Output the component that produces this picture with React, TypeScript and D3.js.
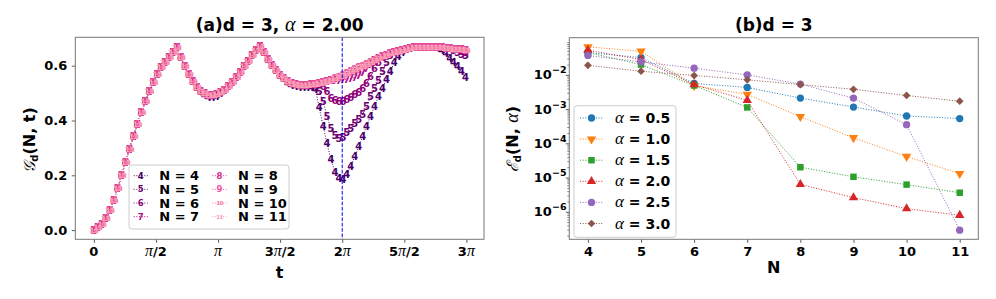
import { useRef, useEffect } from "react";
import * as d3 from "d3";

// ---- panel (a): G_d(N, t), sampled every 0.1 in t ----
const tStep = 0.1;
const gBase = [
  0.000, 0.009, 0.022, 0.042, 0.073, 0.109, 0.152, 0.199, 0.247, 0.294,
  0.343, 0.386, 0.428, 0.468, 0.505, 0.538, 0.568, 0.593, 0.612, 0.629,
  0.648, 0.666, 0.630, 0.599, 0.568, 0.542, 0.521, 0.507, 0.497, 0.492,
  0.491, 0.494, 0.501, 0.511, 0.523, 0.538, 0.556, 0.575, 0.596, 0.617,
  0.636, 0.654, 0.670, 0.647, 0.623, 0.601, 0.581, 0.565, 0.552, 0.541,
  0.534, 0.530, 0.528, 0.527, 0.528, 0.530, 0.532, 0.535, 0.539, 0.543,
  0.548, 0.553, 0.559, 0.565, 0.571, 0.578, 0.585, 0.592, 0.599, 0.606,
  0.613, 0.620, 0.627, 0.633, 0.639, 0.644, 0.649, 0.653, 0.657, 0.660,
  0.663, 0.665, 0.667, 0.668, 0.668, 0.668, 0.667, 0.666, 0.665, 0.664,
  0.662, 0.661, 0.659, 0.658, 0.656,
];
// where a smaller N leaves the common curve: [first index, values]
const n4Segments: [number, number[]][] = [
  [27, [0.503, 0.490, 0.484, 0.483, 0.487, 0.497]],
  [49, [0.536, 0.528, 0.524, 0.522, 0.521, 0.521, 0.519, 0.515, 0.449, 0.378,
        0.315, 0.257, 0.212, 0.190, 0.185, 0.205, 0.234, 0.268, 0.304, 0.343,
        0.380, 0.416, 0.453, 0.487, 0.517, 0.550, 0.580, 0.611, 0.635, 0.650]],
  [87, [0.662, 0.655, 0.645, 0.628, 0.612, 0.597, 0.578, 0.557]],
];
const n5Segments: [number, number[]][] = [
  [55, [0.528, 0.522, 0.505, 0.469, 0.415, 0.370, 0.344, 0.336, 0.340, 0.355,
        0.372, 0.390, 0.405, 0.423, 0.450, 0.487, 0.517, 0.547, 0.578, 0.612, 0.638]],
  [91, [0.655, 0.648, 0.642, 0.636]],
];
const n6Segments: [number, number[]][] = [
  [57, [0.533, 0.525, 0.506, 0.482, 0.472, 0.469, 0.470, 0.477, 0.484, 0.494,
        0.504, 0.518, 0.535, 0.562, 0.590, 0.613, 0.629]],
  [93, [0.652, 0.648]],
];
const n7Segments: [number, number[]][] = [
  [60, [0.546, 0.546, 0.547, 0.549, 0.551, 0.554, 0.558, 0.564, 0.574, 0.590, 0.606]],
];
const nValues = [4, 5, 6, 7, 8, 9, 10, 11];
const nSegments = [n4Segments, n5Segments, n6Segments, n7Segments, [], [], [], []];
const xTickLabels = [["0", ""], ["π", "/2"], ["π", ""], ["3π", "/2"], ["2π", ""], ["5π", "/2"], ["3π", ""]];

// ---- panel (b): E_d(N, alpha) ----
const nAxis = [4, 5, 6, 7, 8, 9, 10, 11];
const alphaLabels = ["0.5", "1.0", "1.5", "2.0", "2.5", "3.0"];
const eAlpha05 = [0.045, 0.032, 0.0056, 0.0043, 0.0021, 0.00115, 0.00063, 0.00053];
const eAlpha10 = [0.066, 0.049, 0.0048, 0.0027, 0.0006, 0.000145, 4.1e-5, 1.3e-5];
const eAlpha15 = [0.045, 0.020, 0.0049, 0.00112, 2.0e-5, 1.05e-5, 6.2e-6, 3.6e-6];
const eAlpha20 = [0.053, 0.028, 0.0052, 0.0018, 6.3e-6, 2.6e-6, 1.23e-6, 7.9e-7];
const eAlpha25 = [0.037, 0.024, 0.0157, 0.010, 0.0054, 0.0021, 0.00035, 2.9e-7];
const eAlpha30 = [0.019, 0.0128, 0.0096, 0.0072, 0.0052, 0.0038, 0.0025, 0.0017];
const eSeries = [eAlpha05, eAlpha10, eAlpha15, eAlpha20, eAlpha25, eAlpha30];

const SANS = "DejaVu Sans";
const MATH = "Liberation Serif";
const SCRIPT = "DejaVu Serif";

const App = () => {
  const svgRef = useRef<SVGSVGElement | null>(null);

  useEffect(() => {
    if (!svgRef.current) return;
    const svg = d3.select(svgRef.current);
    svg.selectAll("*").remove();

    // ================= panel (a) =================
    const A = { x0: 75.3, x1: 484, y0: 37.3, y1: 239.3 };
    const series = nSegments.map(segs => {
      const v = gBase.slice();
      segs.forEach(([s, vals]) => vals.forEach((val, i) => { v[s + i] = val; }));
      return v.map((g, k) => ({ t: k * tStep, g }));
    });
    const tMax = (gBase.length - 1) * tStep;
    const gAll = series.flat().map(d => d.g);
    const gMin = d3.min(gAll) as number, gMax = d3.max(gAll) as number;
    const xA = d3.scaleLinear().domain([-0.05 * tMax, tMax * 1.05]).range([A.x0, A.x1]);
    const yA = d3.scaleLinear()
      .domain([gMin - 0.05 * (gMax - gMin), gMax + 0.05 * (gMax - gMin)])
      .range([A.y1, A.y0]);

    const colors = nValues.map((_, i) => d3.interpolateRdPu(1 - i * 0.09));

    const ga = svg.append("g");
    const plotA = ga.append("g");
    const lineA = d3.line<{ t: number; g: number }>().x(d => xA(d.t)).y(d => yA(d.g));
    series.forEach((s, i) => {
      const lab = String(nValues[i]);
      plotA.append("path").attr("d", lineA(s)).attr("fill", "none")
        .attr("stroke", colors[i]).attr("stroke-width", 1).attr("stroke-dasharray", "1,1.65");
      plotA.selectAll(null).data(s).enter().append("text")
        .attr("x", d => xA(d.t)).attr("y", d => yA(d.g)).attr("dy", "0.36em")
        .attr("text-anchor", "middle")
        .attr("font-family", SANS).attr("font-weight", "bold")
        .attr("font-size", lab.length > 1 ? 7.2 : 10)
        .attr("letter-spacing", lab.length > 1 ? -0.6 : 0)
        .attr("fill", colors[i]).text(lab);
    });
    // vertical line at t = 2pi
    ga.append("line").attr("x1", xA(2 * Math.PI)).attr("x2", xA(2 * Math.PI))
      .attr("y1", A.y0).attr("y2", A.y1).attr("stroke", "#0000ff").attr("stroke-width", 1)
      .attr("stroke-dasharray", "3.7,1.6");

    // axes
    const xTicksA = xTickLabels.map((_, i) => (i * Math.PI) / 2);
    const axA = ga.append("g").attr("transform", `translate(0,${A.y1})`)
      .call(d3.axisBottom(xA).tickValues(xTicksA).tickSize(3.5).tickFormat(() => ""));
    axA.select(".domain").remove();
    axA.selectAll(".tick line").attr("stroke", "#333").attr("stroke-width", 0.8);
    xTicksA.forEach((tv, i) => {
      const [a, b] = xTickLabels[i];
      const txt = ga.append("text").attr("x", xA(tv)).attr("y", 256).attr("text-anchor", "middle")
        .attr("font-family", SANS).attr("font-weight", "bold").attr("font-size", 13);
      if (a === "0") { txt.text("0"); return; }
      const pre = a.replace("π", "");
      if (pre) txt.append("tspan").text(pre);
      txt.append("tspan").attr("font-family", MATH).attr("font-style", "italic").attr("font-weight", "normal")
        .attr("font-size", 16).text("π");
      if (b) txt.append("tspan").text(b);
    });
    const ayA = ga.append("g").attr("transform", `translate(${A.x0},0)`)
      .call(d3.axisLeft(yA).tickValues([0, 0.2, 0.4, 0.6]).tickSize(3.5).tickPadding(4.5).tickFormat(d3.format(".1f")));
    ayA.select(".domain").remove();
    ayA.selectAll(".tick line").attr("stroke", "#333").attr("stroke-width", 0.8);
    ayA.selectAll(".tick text").attr("font-family", SANS).attr("font-weight", "bold").attr("font-size", 13).attr("fill", "#000");

    ga.append("rect").attr("x", A.x0).attr("y", A.y0).attr("width", A.x1 - A.x0).attr("height", A.y1 - A.y0)
      .attr("fill", "none").attr("stroke", "#777").attr("stroke-width", 1);

    // title
    const tA = ga.append("text").attr("x", (A.x0 + A.x1) / 2).attr("y", 31).attr("text-anchor", "middle")
      .attr("font-family", SANS).attr("font-weight", "bold").attr("font-size", 17);
    tA.append("tspan").text("(a)d = 3, ");
    tA.append("tspan").attr("font-family", MATH).attr("font-style", "italic").attr("font-weight", "normal")
      .attr("font-size", 20).text("α");
    tA.append("tspan").text(" = 2.00");
    // axis labels
    ga.append("text").attr("x", (A.x0 + A.x1) / 2).attr("y", 278).attr("text-anchor", "middle")
      .attr("font-family", SANS).attr("font-weight", "bold").attr("font-size", 16).text("t");
    const ylA = ga.append("text").attr("transform", "translate(35,140) rotate(-90)").attr("text-anchor", "middle")
      .attr("font-family", SANS).attr("font-weight", "bold").attr("font-size", 16);
    ylA.append("tspan").attr("font-family", SCRIPT).attr("font-weight", "normal").attr("font-style", "italic").text("𝒢");
    ylA.append("tspan").attr("font-size", 10).attr("dy", 3).text("d");
    ylA.append("tspan").attr("dy", -3).text("(N, t)");

    // legend
    const lgA = ga.append("g");
    lgA.append("rect").attr("x", 129).attr("y", 165).attr("width", 160).attr("height", 64).attr("rx", 3)
      .attr("fill", "#fff").attr("fill-opacity", 0.8).attr("stroke", "#ccc").attr("stroke-width", 1);
    nValues.forEach((n, i) => {
      const col = Math.floor(i / 4), row = i % 4;
      const mx = col === 0 ? 140.7 : 219.5;
      const tx = col === 0 ? 159.3 : 238;
      const y = 175.7 + row * 13.65;
      const lab = String(n);
      lgA.append("line").attr("x1", mx - 7).attr("x2", mx + 7).attr("y1", y).attr("y2", y)
        .attr("stroke", colors[i]).attr("stroke-width", 1).attr("stroke-dasharray", "1,1.65");
      lgA.append("text").attr("x", mx).attr("y", y).attr("dy", "0.36em").attr("text-anchor", "middle")
        .attr("font-family", SANS).attr("font-weight", "bold")
        .attr("font-size", lab.length > 1 ? 5.5 : 8.5).attr("letter-spacing", lab.length > 1 ? -0.5 : 0)
        .attr("fill", colors[i]).text(lab);
      lgA.append("text").attr("x", tx).attr("y", y).attr("dy", "0.36em")
        .attr("font-family", SANS).attr("font-weight", "bold").attr("font-size", 13).text(`N = ${n}`);
    });

    // ================= panel (b) =================
    const B = { x0: 569.3, x1: 978.3, y0: 37.7, y1: 239.3 };
    const eAll = eSeries.flat();
    const lMin = Math.log10(d3.min(eAll) as number), lMax = Math.log10(d3.max(eAll) as number);
    const lPad = 0.05 * (lMax - lMin);
    const xB = d3.scaleLinear().domain([4 - 0.35, 11 + 0.35]).range([B.x0, B.x1]);
    const yB = d3.scaleLog().domain([10 ** (lMin - lPad), 10 ** (lMax + lPad)]).range([B.y1, B.y0]);
    const tab = ["#1f77b4", "#ff7f0e", "#2ca02c", "#d62728", "#9467bd", "#8c564b"];
    const sym = [
      { type: d3.symbolCircle, size: 42, rot: 0 },
      { type: d3.symbolTriangle, size: 38, rot: 180 },
      { type: d3.symbolSquare, size: 42, rot: 0 },
      { type: d3.symbolTriangle, size: 38, rot: 0 },
      { type: d3.symbolCircle, size: 42, rot: 0 },
      { type: d3.symbolSquare, size: 30, rot: 45 },
    ];
    const gb = svg.append("g");
    const lineB = d3.line<number>().x((_, i) => xB(nAxis[i])).y(d => yB(d));
    eSeries.forEach((s, i) => {
      gb.append("path").attr("d", lineB(s)).attr("fill", "none").attr("stroke", tab[i])
        .attr("stroke-width", 1).attr("stroke-dasharray", "1,1.65");
      gb.selectAll(null).data(s).enter().append("path")
        .attr("d", d3.symbol().type(sym[i].type).size(sym[i].size)())
        .attr("transform", (d, j) => `translate(${xB(nAxis[j])},${yB(d)}) rotate(${sym[i].rot})`)
        .attr("fill", tab[i]);
    });

    const axB = gb.append("g").attr("transform", `translate(0,${B.y1})`)
      .call(d3.axisBottom(xB).tickValues(nAxis).tickSize(3.5).tickPadding(4).tickFormat(d3.format("d")));
    axB.select(".domain").remove();
    axB.selectAll(".tick line").attr("stroke", "#333").attr("stroke-width", 0.8);
    axB.selectAll(".tick text").attr("font-family", SANS).attr("font-weight", "bold").attr("font-size", 13).attr("fill", "#000");

    const majors = [1e-6, 1e-5, 1e-4, 1e-3, 1e-2];
    const minors: number[] = [];
    for (let e = -7; e <= -1; e++) for (let m = 2; m <= 9; m++) {
      const v = m * 10 ** e;
      const [lo, hi] = yB.domain();
      if (v > lo && v < hi) minors.push(v);
    }
    const ayB = gb.append("g").attr("transform", `translate(${B.x0},0)`)
      .call(d3.axisLeft(yB).tickValues(majors).tickSize(3.5).tickFormat(() => ""));
    ayB.select(".domain").remove();
    ayB.selectAll(".tick line").attr("stroke", "#333").attr("stroke-width", 0.8);
    const ayBm = gb.append("g").attr("transform", `translate(${B.x0},0)`)
      .call(d3.axisLeft(yB).tickValues(minors).tickSize(2).tickFormat(() => ""));
    ayBm.select(".domain").remove();
    ayBm.selectAll(".tick line").attr("stroke", "#333").attr("stroke-width", 0.6);
    majors.forEach(v => {
      const e = Math.round(Math.log10(v));
      const y = yB(v);
      const t = gb.append("text").attr("x", 566.5).attr("y", y + 4.5).attr("text-anchor", "end")
        .attr("font-family", SANS).attr("font-weight", "bold").attr("font-size", 13);
      t.append("tspan").text("10");
      t.append("tspan").attr("dy", -6).attr("font-size", 9.5).text(`−${-e}`);
    });

    gb.append("rect").attr("x", B.x0).attr("y", B.y0).attr("width", B.x1 - B.x0).attr("height", B.y1 - B.y0)
      .attr("fill", "none").attr("stroke", "#777").attr("stroke-width", 1);

    gb.append("text").attr("x", (B.x0 + B.x1) / 2).attr("y", 31).attr("text-anchor", "middle")
      .attr("font-family", SANS).attr("font-weight", "bold").attr("font-size", 17).text("(b)d = 3");
    gb.append("text").attr("x", (B.x0 + B.x1) / 2).attr("y", 273).attr("text-anchor", "middle")
      .attr("font-family", SANS).attr("font-weight", "bold").attr("font-size", 16).text("N");
    const ylB = gb.append("text").attr("transform", "translate(518,139) rotate(-90)").attr("text-anchor", "middle")
      .attr("font-family", SANS).attr("font-weight", "bold").attr("font-size", 16);
    ylB.append("tspan").attr("font-family", SCRIPT).attr("font-weight", "normal").attr("font-style", "italic").text("ℰ");
    ylB.append("tspan").attr("font-size", 10).attr("dy", 3).text("d");
    ylB.append("tspan").attr("dy", -3).text("(N, ");
    ylB.append("tspan").attr("font-family", MATH).attr("font-weight", "normal").attr("font-style", "italic")
      .attr("font-size", 18).text("α");
    ylB.append("tspan").text(")");

    const lgB = gb.append("g");
    lgB.append("rect").attr("x", 574).attr("y", 105.7).attr("width", 102).attr("height", 131.6).attr("rx", 3)
      .attr("fill", "#fff").attr("fill-opacity", 0.8).attr("stroke", "#ccc").attr("stroke-width", 1);
    alphaLabels.forEach((a, i) => {
      const y = 118 + i * 21.1;
      lgB.append("line").attr("x1", 580).attr("x2", 603).attr("y1", y).attr("y2", y)
        .attr("stroke", tab[i]).attr("stroke-width", 1).attr("stroke-dasharray", "1,1.65");
      lgB.append("path").attr("d", d3.symbol().type(sym[i].type).size(sym[i].size)())
        .attr("transform", `translate(591.5,${y}) rotate(${sym[i].rot})`).attr("fill", tab[i]);
      const t = lgB.append("text").attr("x", 615).attr("y", y).attr("dy", "0.36em")
        .attr("font-family", SANS).attr("font-weight", "bold").attr("font-size", 14);
      t.append("tspan").attr("font-family", MATH).attr("font-style", "italic").attr("font-weight", "normal")
        .attr("font-size", 17).text("α");
      t.append("tspan").text(` = ${a}`);
    });
  }, []);

  return (
    <div style={{ position: "absolute", left: 0, top: 0, background: "#fff" }}>
      <svg ref={svgRef} width={996} height={299} viewBox="0 0 996 299"></svg>
    </div>
  );
};

export default App;
